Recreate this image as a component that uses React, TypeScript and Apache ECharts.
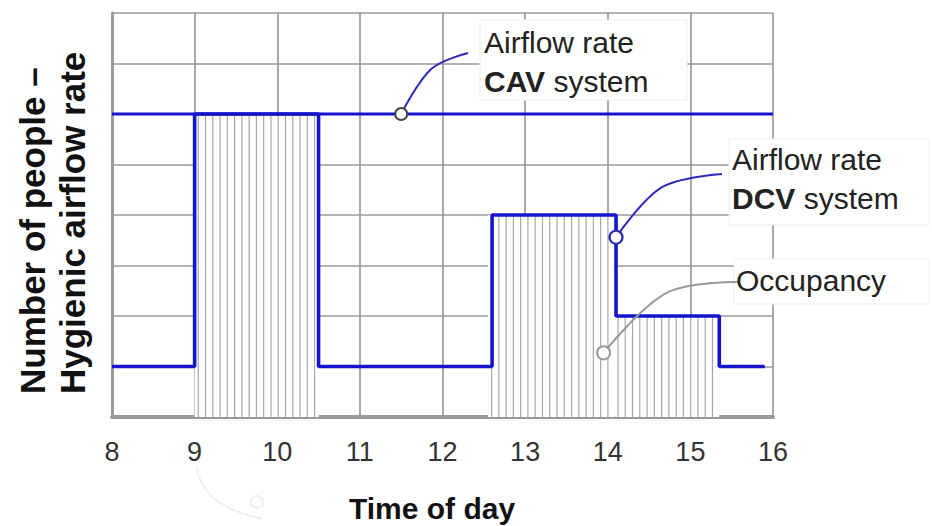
import React, { useEffect, useRef } from "react";
import * as echarts from "echarts";

// ---- data ----
const xTickLabels = ["8", "9", "10", "11", "12", "13", "14", "15", "16"];
const cavTimes = [8, 16];
const cavValues = [6, 6];
const dcvTimes = [8, 9, 9, 10.5, 10.5, 12.6, 12.6, 14.1, 14.1, 15.35, 15.35, 15.9];
const dcvValues = [1, 1, 6, 6, 1, 1, 4, 4, 2, 2, 1, 1];
const occStart = [9.0, 12.55, 14.08];
const occEnd = [10.5, 14.08, 15.35];
const occValue = [6, 4, 2];
const cavMarker = [11.5, 6];
const dcvMarker = [14.1, 3.56];
const occMarker = [13.95, 1.27];

const FONT = "'Liberation Sans', Arial, Helvetica, sans-serif";
const BLUE = "#1414cc";
const GRID = "#9a9a9a";

export default function App() {
  const ref = useRef<HTMLDivElement>(null);
  useEffect(() => {
    if (!ref.current) return;
    const chart = echarts.init(ref.current, undefined, { renderer: "svg" });
    const hatchStep = 0.088;
    const option: any = {
      animation: false,
      backgroundColor: "#ffffff",
      grid: { left: 112, right: 159, top: 13, bottom: 109, containLabel: false },
      xAxis: {
        type: "value",
        min: 8,
        max: 16,
        interval: 1,
        axisLine: { show: true, onZero: false, lineStyle: { color: GRID, width: 4 } },
        axisTick: { show: false },
        splitLine: { show: true, lineStyle: { color: GRID, width: 1.7 } },
        axisLabel: {
          fontSize: 27,
          color: "#333",
          fontFamily: FONT,
          margin: 21,
          formatter: (v: number) => xTickLabels[Math.round(v - 8)] ?? "",
        },
      },
      yAxis: {
        type: "value",
        min: 0,
        max: 8,
        interval: 1,
        axisLine: { show: true, lineStyle: { color: GRID, width: 3 } },
        axisTick: { show: false },
        axisLabel: { show: false },
        splitLine: { show: true, lineStyle: { color: GRID, width: 1.7 } },
      },
      series: [
        {
          type: "custom",
          name: "Occupancy",
          z: 2,
          data: occStart.map((s, i) => [s, occEnd[i], occValue[i]]),
          encode: { x: [0, 1], y: 2 },
          renderItem: (params: any, api: any) => {
            const x0 = api.value(0);
            const x1 = api.value(1);
            const h = api.value(2);
            const p0 = api.coord([x0, 0]);
            const p1 = api.coord([x1, h]);
            const children: any[] = [
              {
                type: "rect",
                shape: { x: p0[0], y: p1[1], width: p1[0] - p0[0], height: p0[1] - p1[1] },
                style: { fill: "#ffffff" },
              },
            ];
            for (let t = x0 + hatchStep / 2; t < x1; t += hatchStep) {
              const px = api.coord([t, 0])[0];
              children.push({
                type: "line",
                shape: { x1: px, y1: p0[1], x2: px, y2: p1[1] },
                style: { stroke: "#a8a8a8", lineWidth: 1.2 },
              });
            }
            return { type: "group", children };
          },
        },
        {
          type: "line",
          name: "CAV",
          z: 3,
          symbol: "none",
          data: cavTimes.map((t, i) => [t, cavValues[i]]),
          lineStyle: { color: BLUE, width: 3.2 },
        },
        {
          type: "line",
          name: "DCV",
          z: 4,
          symbol: "none",
          data: dcvTimes.map((t, i) => [t, dcvValues[i]]),
          lineStyle: { color: BLUE, width: 3.6 },
        },
      ],
    };
    chart.setOption(option);

    const px = (p: number[]) => chart.convertToPixel({ gridIndex: 0 }, p) as number[];
    const cav = px(cavMarker);
    const dcv = px(dcvMarker);
    const occ = px(occMarker);

    const textStyle = (text: string, extra: any = {}) => ({
      text,
      fontSize: 30,
      fontFamily: FONT,
      fill: "#222",
      lineHeight: 39,
      align: "left",
      textAlign: "left",
      verticalAlign: "middle",
      textVerticalAlign: "middle",
      rich: {
        b: { fontSize: 30, fontFamily: FONT, fontWeight: "bold", fill: "#222", lineHeight: 39 },
      },
      ...extra,
    });

    const graphic: any[] = [
      // faint ghost arc under the axis
      {
        type: "bezierCurve",
        silent: true,
        shape: { x1: 197, y1: 466, x2: 262, y2: 519, cpx1: 200, cpy1: 505 },
        style: { stroke: "#f0f0f0", lineWidth: 2, fill: "none" },
      },
      {
        type: "circle",
        silent: true,
        shape: { cx: 257, cy: 502, r: 6 },
        style: { stroke: "#f0f0f0", lineWidth: 2, fill: "none" },
      },
      // label boxes
      {
        type: "rect",
        shape: { x: 480, y: 20, width: 207, height: 80 },
        style: { fill: "#ffffff", stroke: "#eeeeee", lineWidth: 1 },
        z: 50,
      },
      {
        type: "rect",
        shape: { x: 729, y: 139, width: 200, height: 86 },
        style: { fill: "#ffffff", stroke: "#eeeeee", lineWidth: 1 },
        z: 50,
      },
      {
        type: "rect",
        shape: { x: 734, y: 259, width: 195, height: 45 },
        style: { fill: "#ffffff", stroke: "#eeeeee", lineWidth: 1 },
        z: 50,
      },
      // texts
      {
        type: "text",
        x: 484,
        y: 62,
        z: 60,
        style: textStyle("Airflow rate\n{b|CAV} system"),
      },
      {
        type: "text",
        x: 732,
        y: 179,
        z: 60,
        style: textStyle("Airflow rate\n{b|DCV} system"),
      },
      {
        type: "text",
        x: 736,
        y: 280,
        z: 60,
        style: textStyle("Occupancy"),
      },
      // leader lines
      {
        type: "polyline",
        z: 55,
        shape: { points: [[cav[0], cav[1]], [cav[0] + 30, cav[1] - 45], [468, 53]], smooth: 0.35 },
        style: { stroke: "#2a2ab8", lineWidth: 2, fill: "none" },
      },
      {
        type: "polyline",
        z: 55,
        shape: { points: [[dcv[0], dcv[1]], [dcv[0] + 46, dcv[1] - 50], [722, 174]], smooth: 0.35 },
        style: { stroke: "#2a2ab8", lineWidth: 2, fill: "none" },
      },
      {
        type: "polyline",
        z: 55,
        shape: { points: [[occ[0], occ[1]], [occ[0] + 63, occ[1] - 60], [738, 282]], smooth: 0.35 },
        style: { stroke: "#999999", lineWidth: 2, fill: "none" },
      },
      // marker circles
      {
        type: "circle",
        z: 70,
        shape: { cx: cav[0], cy: cav[1], r: 6 },
        style: { fill: "#ffffff", stroke: "#444444", lineWidth: 2 },
      },
      {
        type: "circle",
        z: 70,
        shape: { cx: dcv[0], cy: dcv[1], r: 6.5 },
        style: { fill: "#ffffff", stroke: "#2a2ab8", lineWidth: 2.2 },
      },
      {
        type: "circle",
        z: 70,
        shape: { cx: occ[0], cy: occ[1], r: 6.5 },
        style: { fill: "#ffffff", stroke: "#999999", lineWidth: 2 },
      },
      // axis titles
      {
        type: "text",
        x: 52,
        y: 394,
        rotation: Math.PI / 2,
        z: 60,
        style: {
          text: "Number of people –\nHygienic airflow rate",
          fontSize: 35,
          fontWeight: "bold",
          fontFamily: FONT,
          fill: "#111",
          lineHeight: 40,
          align: "left",
          textAlign: "left",
          verticalAlign: "middle",
          textVerticalAlign: "middle",
        },
      },
      {
        type: "text",
        x: 432,
        y: 508,
        z: 60,
        style: {
          text: "Time of day",
          fontSize: 30,
          fontWeight: "bold",
          fontFamily: FONT,
          fill: "#111",
          align: "center",
          textAlign: "center",
          verticalAlign: "middle",
          textVerticalAlign: "middle",
        },
      },
    ];
    chart.setOption({ graphic });

    return () => chart.dispose();
  }, []);
  return <div ref={ref} style={{ width: 932, height: 526, position: "absolute", left: 0, top: 0 }} />;
}
